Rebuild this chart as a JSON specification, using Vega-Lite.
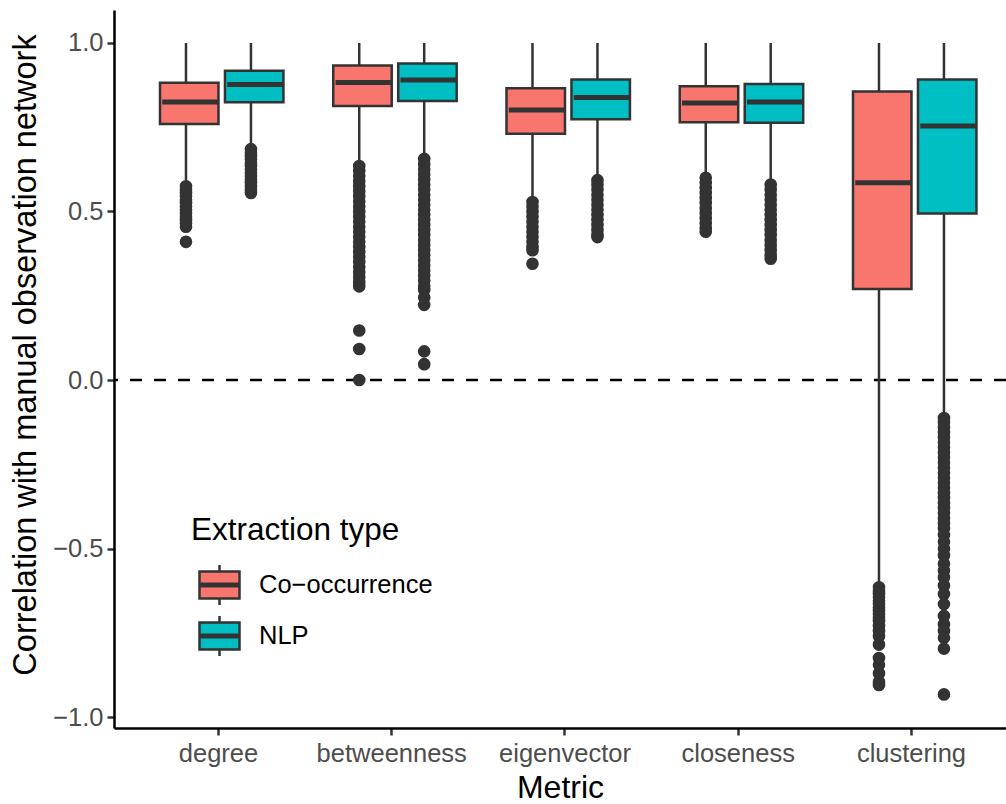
{
  "$schema": "https://vega.github.io/schema/vega-lite/v6.json",
  "width": 892,
  "height": 718,
  "autosize": {"type": "none"},
  "padding": {"left": 114, "top": 10, "right": 0, "bottom": 76},
  "background": "white",
  "config": {
    "view": {"stroke": null},
    "font": "Liberation Sans",
    "axis": {
      "domainColor": "black",
      "domainWidth": 2.5,
      "tickColor": "#333333",
      "tickWidth": 2.5,
      "tickSize": 7,
      "labelColor": "#4D4D4D",
      "labelFontSize": 25.5,
      "labelFont": "Liberation Sans",
      "titleFont": "Liberation Sans",
      "titleFontSize": 32,
      "titleFontWeight": "normal",
      "titleColor": "black",
      "grid": false
    },
    "axisX": {"labelAngle": 0, "labelPadding": 6, "titlePadding": 6},
    "axisY": {"labelPadding": 4, "titlePadding": 10, "titleFontSize": 32.5, "titleY": 344.5},
    "legend": {
      "orient": "none",
      "legendX": 77,
      "legendY": 505,
      "padding": 0,
      "titleFont": "Liberation Sans",
      "titleFontSize": 31.5,
      "titleFontWeight": "normal",
      "titleColor": "black",
      "titlePadding": 17,
      "titleLimit": 0,
      "labelFont": "Liberation Sans",
      "labelFontSize": 25.5,
      "labelColor": "black",
      "labelLimit": 0,
      "labelOffset": 18,
      "symbolOffset": 7,
      "rowPadding": 0,
      "symbolSize": 1600,
      "symbolType": "M-1,-0.675H1V0.675H-1Z M-1,-0.06H1V0.06H-1Z M0,-0.675V-1 M0,0.675V1",
      "symbolStrokeColor": "#333333",
      "symbolStrokeWidth": 2.5
    }
  },
  "datasets": {
    "stats": [
      {"metric": "degree", "type": "Co-occurrence", "lower": 0.585, "q1": 0.760, "median": 0.825, "q3": 0.882, "upper": 1.0},
      {"metric": "degree", "type": "NLP", "lower": 0.69, "q1": 0.824, "median": 0.877, "q3": 0.918, "upper": 1.0},
      {"metric": "betweenness", "type": "Co-occurrence", "lower": 0.64, "q1": 0.813, "median": 0.883, "q3": 0.933, "upper": 1.0},
      {"metric": "betweenness", "type": "NLP", "lower": 0.662, "q1": 0.828, "median": 0.890, "q3": 0.939, "upper": 1.0},
      {"metric": "eigenvector", "type": "Co-occurrence", "lower": 0.533, "q1": 0.731, "median": 0.801, "q3": 0.866, "upper": 1.0},
      {"metric": "eigenvector", "type": "NLP", "lower": 0.597, "q1": 0.774, "median": 0.838, "q3": 0.892, "upper": 1.0},
      {"metric": "closeness", "type": "Co-occurrence", "lower": 0.605, "q1": 0.765, "median": 0.822, "q3": 0.872, "upper": 1.0},
      {"metric": "closeness", "type": "NLP", "lower": 0.585, "q1": 0.763, "median": 0.825, "q3": 0.878, "upper": 1.0},
      {"metric": "clustering", "type": "Co-occurrence", "lower": -0.61, "q1": 0.270, "median": 0.585, "q3": 0.856, "upper": 1.0},
      {"metric": "clustering", "type": "NLP", "lower": -0.108, "q1": 0.494, "median": 0.754, "q3": 0.892, "upper": 1.0}
    ],
    "outliers": [
      {"metric": "degree", "type": "Co-occurrence", "value": 0.575},
      {"metric": "degree", "type": "Co-occurrence", "value": 0.565},
      {"metric": "degree", "type": "Co-occurrence", "value": 0.555},
      {"metric": "degree", "type": "Co-occurrence", "value": 0.545},
      {"metric": "degree", "type": "Co-occurrence", "value": 0.535},
      {"metric": "degree", "type": "Co-occurrence", "value": 0.525},
      {"metric": "degree", "type": "Co-occurrence", "value": 0.515},
      {"metric": "degree", "type": "Co-occurrence", "value": 0.505},
      {"metric": "degree", "type": "Co-occurrence", "value": 0.495},
      {"metric": "degree", "type": "Co-occurrence", "value": 0.485},
      {"metric": "degree", "type": "Co-occurrence", "value": 0.475},
      {"metric": "degree", "type": "Co-occurrence", "value": 0.465},
      {"metric": "degree", "type": "Co-occurrence", "value": 0.455},
      {"metric": "degree", "type": "Co-occurrence", "value": 0.41},
      {"metric": "degree", "type": "NLP", "value": 0.685},
      {"metric": "degree", "type": "NLP", "value": 0.675},
      {"metric": "degree", "type": "NLP", "value": 0.665},
      {"metric": "degree", "type": "NLP", "value": 0.655},
      {"metric": "degree", "type": "NLP", "value": 0.645},
      {"metric": "degree", "type": "NLP", "value": 0.635},
      {"metric": "degree", "type": "NLP", "value": 0.625},
      {"metric": "degree", "type": "NLP", "value": 0.615},
      {"metric": "degree", "type": "NLP", "value": 0.605},
      {"metric": "degree", "type": "NLP", "value": 0.595},
      {"metric": "degree", "type": "NLP", "value": 0.585},
      {"metric": "degree", "type": "NLP", "value": 0.575},
      {"metric": "degree", "type": "NLP", "value": 0.565},
      {"metric": "degree", "type": "NLP", "value": 0.555},
      {"metric": "betweenness", "type": "Co-occurrence", "value": 0.635},
      {"metric": "betweenness", "type": "Co-occurrence", "value": 0.62},
      {"metric": "betweenness", "type": "Co-occurrence", "value": 0.605},
      {"metric": "betweenness", "type": "Co-occurrence", "value": 0.59},
      {"metric": "betweenness", "type": "Co-occurrence", "value": 0.575},
      {"metric": "betweenness", "type": "Co-occurrence", "value": 0.56},
      {"metric": "betweenness", "type": "Co-occurrence", "value": 0.545},
      {"metric": "betweenness", "type": "Co-occurrence", "value": 0.53},
      {"metric": "betweenness", "type": "Co-occurrence", "value": 0.515},
      {"metric": "betweenness", "type": "Co-occurrence", "value": 0.5},
      {"metric": "betweenness", "type": "Co-occurrence", "value": 0.485},
      {"metric": "betweenness", "type": "Co-occurrence", "value": 0.47},
      {"metric": "betweenness", "type": "Co-occurrence", "value": 0.455},
      {"metric": "betweenness", "type": "Co-occurrence", "value": 0.44},
      {"metric": "betweenness", "type": "Co-occurrence", "value": 0.425},
      {"metric": "betweenness", "type": "Co-occurrence", "value": 0.41},
      {"metric": "betweenness", "type": "Co-occurrence", "value": 0.395},
      {"metric": "betweenness", "type": "Co-occurrence", "value": 0.38},
      {"metric": "betweenness", "type": "Co-occurrence", "value": 0.365},
      {"metric": "betweenness", "type": "Co-occurrence", "value": 0.35},
      {"metric": "betweenness", "type": "Co-occurrence", "value": 0.335},
      {"metric": "betweenness", "type": "Co-occurrence", "value": 0.32},
      {"metric": "betweenness", "type": "Co-occurrence", "value": 0.305},
      {"metric": "betweenness", "type": "Co-occurrence", "value": 0.29},
      {"metric": "betweenness", "type": "Co-occurrence", "value": 0.278},
      {"metric": "betweenness", "type": "Co-occurrence", "value": 0.147},
      {"metric": "betweenness", "type": "Co-occurrence", "value": 0.092},
      {"metric": "betweenness", "type": "Co-occurrence", "value": 0.0},
      {"metric": "betweenness", "type": "NLP", "value": 0.656},
      {"metric": "betweenness", "type": "NLP", "value": 0.64},
      {"metric": "betweenness", "type": "NLP", "value": 0.625},
      {"metric": "betweenness", "type": "NLP", "value": 0.61},
      {"metric": "betweenness", "type": "NLP", "value": 0.595},
      {"metric": "betweenness", "type": "NLP", "value": 0.58},
      {"metric": "betweenness", "type": "NLP", "value": 0.565},
      {"metric": "betweenness", "type": "NLP", "value": 0.55},
      {"metric": "betweenness", "type": "NLP", "value": 0.535},
      {"metric": "betweenness", "type": "NLP", "value": 0.52},
      {"metric": "betweenness", "type": "NLP", "value": 0.505},
      {"metric": "betweenness", "type": "NLP", "value": 0.49},
      {"metric": "betweenness", "type": "NLP", "value": 0.475},
      {"metric": "betweenness", "type": "NLP", "value": 0.46},
      {"metric": "betweenness", "type": "NLP", "value": 0.445},
      {"metric": "betweenness", "type": "NLP", "value": 0.43},
      {"metric": "betweenness", "type": "NLP", "value": 0.415},
      {"metric": "betweenness", "type": "NLP", "value": 0.4},
      {"metric": "betweenness", "type": "NLP", "value": 0.385},
      {"metric": "betweenness", "type": "NLP", "value": 0.37},
      {"metric": "betweenness", "type": "NLP", "value": 0.355},
      {"metric": "betweenness", "type": "NLP", "value": 0.34},
      {"metric": "betweenness", "type": "NLP", "value": 0.325},
      {"metric": "betweenness", "type": "NLP", "value": 0.31},
      {"metric": "betweenness", "type": "NLP", "value": 0.295},
      {"metric": "betweenness", "type": "NLP", "value": 0.28},
      {"metric": "betweenness", "type": "NLP", "value": 0.267},
      {"metric": "betweenness", "type": "NLP", "value": 0.245},
      {"metric": "betweenness", "type": "NLP", "value": 0.223},
      {"metric": "betweenness", "type": "NLP", "value": 0.085},
      {"metric": "betweenness", "type": "NLP", "value": 0.047},
      {"metric": "eigenvector", "type": "Co-occurrence", "value": 0.528},
      {"metric": "eigenvector", "type": "Co-occurrence", "value": 0.515},
      {"metric": "eigenvector", "type": "Co-occurrence", "value": 0.5},
      {"metric": "eigenvector", "type": "Co-occurrence", "value": 0.485},
      {"metric": "eigenvector", "type": "Co-occurrence", "value": 0.47},
      {"metric": "eigenvector", "type": "Co-occurrence", "value": 0.455},
      {"metric": "eigenvector", "type": "Co-occurrence", "value": 0.44},
      {"metric": "eigenvector", "type": "Co-occurrence", "value": 0.425},
      {"metric": "eigenvector", "type": "Co-occurrence", "value": 0.41},
      {"metric": "eigenvector", "type": "Co-occurrence", "value": 0.395},
      {"metric": "eigenvector", "type": "Co-occurrence", "value": 0.385},
      {"metric": "eigenvector", "type": "Co-occurrence", "value": 0.345},
      {"metric": "eigenvector", "type": "NLP", "value": 0.593},
      {"metric": "eigenvector", "type": "NLP", "value": 0.58},
      {"metric": "eigenvector", "type": "NLP", "value": 0.565},
      {"metric": "eigenvector", "type": "NLP", "value": 0.55},
      {"metric": "eigenvector", "type": "NLP", "value": 0.535},
      {"metric": "eigenvector", "type": "NLP", "value": 0.52},
      {"metric": "eigenvector", "type": "NLP", "value": 0.505},
      {"metric": "eigenvector", "type": "NLP", "value": 0.49},
      {"metric": "eigenvector", "type": "NLP", "value": 0.475},
      {"metric": "eigenvector", "type": "NLP", "value": 0.46},
      {"metric": "eigenvector", "type": "NLP", "value": 0.445},
      {"metric": "eigenvector", "type": "NLP", "value": 0.432},
      {"metric": "eigenvector", "type": "NLP", "value": 0.424},
      {"metric": "closeness", "type": "Co-occurrence", "value": 0.6},
      {"metric": "closeness", "type": "Co-occurrence", "value": 0.585},
      {"metric": "closeness", "type": "Co-occurrence", "value": 0.57},
      {"metric": "closeness", "type": "Co-occurrence", "value": 0.555},
      {"metric": "closeness", "type": "Co-occurrence", "value": 0.54},
      {"metric": "closeness", "type": "Co-occurrence", "value": 0.525},
      {"metric": "closeness", "type": "Co-occurrence", "value": 0.51},
      {"metric": "closeness", "type": "Co-occurrence", "value": 0.495},
      {"metric": "closeness", "type": "Co-occurrence", "value": 0.48},
      {"metric": "closeness", "type": "Co-occurrence", "value": 0.465},
      {"metric": "closeness", "type": "Co-occurrence", "value": 0.45},
      {"metric": "closeness", "type": "Co-occurrence", "value": 0.44},
      {"metric": "closeness", "type": "NLP", "value": 0.58},
      {"metric": "closeness", "type": "NLP", "value": 0.565},
      {"metric": "closeness", "type": "NLP", "value": 0.55},
      {"metric": "closeness", "type": "NLP", "value": 0.535},
      {"metric": "closeness", "type": "NLP", "value": 0.52},
      {"metric": "closeness", "type": "NLP", "value": 0.505},
      {"metric": "closeness", "type": "NLP", "value": 0.49},
      {"metric": "closeness", "type": "NLP", "value": 0.475},
      {"metric": "closeness", "type": "NLP", "value": 0.46},
      {"metric": "closeness", "type": "NLP", "value": 0.445},
      {"metric": "closeness", "type": "NLP", "value": 0.43},
      {"metric": "closeness", "type": "NLP", "value": 0.415},
      {"metric": "closeness", "type": "NLP", "value": 0.4},
      {"metric": "closeness", "type": "NLP", "value": 0.385},
      {"metric": "closeness", "type": "NLP", "value": 0.37},
      {"metric": "closeness", "type": "NLP", "value": 0.36},
      {"metric": "clustering", "type": "Co-occurrence", "value": -0.615},
      {"metric": "clustering", "type": "Co-occurrence", "value": -0.625},
      {"metric": "clustering", "type": "Co-occurrence", "value": -0.635},
      {"metric": "clustering", "type": "Co-occurrence", "value": -0.645},
      {"metric": "clustering", "type": "Co-occurrence", "value": -0.655},
      {"metric": "clustering", "type": "Co-occurrence", "value": -0.665},
      {"metric": "clustering", "type": "Co-occurrence", "value": -0.675},
      {"metric": "clustering", "type": "Co-occurrence", "value": -0.685},
      {"metric": "clustering", "type": "Co-occurrence", "value": -0.695},
      {"metric": "clustering", "type": "Co-occurrence", "value": -0.705},
      {"metric": "clustering", "type": "Co-occurrence", "value": -0.715},
      {"metric": "clustering", "type": "Co-occurrence", "value": -0.73},
      {"metric": "clustering", "type": "Co-occurrence", "value": -0.745},
      {"metric": "clustering", "type": "Co-occurrence", "value": -0.76},
      {"metric": "clustering", "type": "Co-occurrence", "value": -0.785},
      {"metric": "clustering", "type": "Co-occurrence", "value": -0.825},
      {"metric": "clustering", "type": "Co-occurrence", "value": -0.845},
      {"metric": "clustering", "type": "Co-occurrence", "value": -0.87},
      {"metric": "clustering", "type": "Co-occurrence", "value": -0.895},
      {"metric": "clustering", "type": "Co-occurrence", "value": -0.905},
      {"metric": "clustering", "type": "NLP", "value": -0.113},
      {"metric": "clustering", "type": "NLP", "value": -0.125},
      {"metric": "clustering", "type": "NLP", "value": -0.14},
      {"metric": "clustering", "type": "NLP", "value": -0.155},
      {"metric": "clustering", "type": "NLP", "value": -0.17},
      {"metric": "clustering", "type": "NLP", "value": -0.185},
      {"metric": "clustering", "type": "NLP", "value": -0.2},
      {"metric": "clustering", "type": "NLP", "value": -0.215},
      {"metric": "clustering", "type": "NLP", "value": -0.23},
      {"metric": "clustering", "type": "NLP", "value": -0.245},
      {"metric": "clustering", "type": "NLP", "value": -0.26},
      {"metric": "clustering", "type": "NLP", "value": -0.275},
      {"metric": "clustering", "type": "NLP", "value": -0.29},
      {"metric": "clustering", "type": "NLP", "value": -0.305},
      {"metric": "clustering", "type": "NLP", "value": -0.32},
      {"metric": "clustering", "type": "NLP", "value": -0.335},
      {"metric": "clustering", "type": "NLP", "value": -0.35},
      {"metric": "clustering", "type": "NLP", "value": -0.365},
      {"metric": "clustering", "type": "NLP", "value": -0.38},
      {"metric": "clustering", "type": "NLP", "value": -0.395},
      {"metric": "clustering", "type": "NLP", "value": -0.41},
      {"metric": "clustering", "type": "NLP", "value": -0.425},
      {"metric": "clustering", "type": "NLP", "value": -0.44},
      {"metric": "clustering", "type": "NLP", "value": -0.46},
      {"metric": "clustering", "type": "NLP", "value": -0.48},
      {"metric": "clustering", "type": "NLP", "value": -0.5},
      {"metric": "clustering", "type": "NLP", "value": -0.52},
      {"metric": "clustering", "type": "NLP", "value": -0.545},
      {"metric": "clustering", "type": "NLP", "value": -0.565},
      {"metric": "clustering", "type": "NLP", "value": -0.585},
      {"metric": "clustering", "type": "NLP", "value": -0.61},
      {"metric": "clustering", "type": "NLP", "value": -0.635},
      {"metric": "clustering", "type": "NLP", "value": -0.665},
      {"metric": "clustering", "type": "NLP", "value": -0.7},
      {"metric": "clustering", "type": "NLP", "value": -0.725},
      {"metric": "clustering", "type": "NLP", "value": -0.745},
      {"metric": "clustering", "type": "NLP", "value": -0.765},
      {"metric": "clustering", "type": "NLP", "value": -0.797},
      {"metric": "clustering", "type": "NLP", "value": -0.933}
    ]
  },
  "layer": [
    {
      "data": {"values": [{"ref": 0}]},
      "mark": {"type": "rule", "color": "black", "strokeWidth": 2.7, "strokeDash": [12, 12]},
      "encoding": {
        "y": {"field": "ref", "type": "quantitative", "title": "Correlation with manual observation network",
              "scale": {"domain": [-1.0326, 1.0979], "nice": false, "zero": false},
              "axis": {"values": [-1, -0.5, 0, 0.5, 1], "format": ".1f"}}
      }
    },
    {
      "data": {"name": "stats"},
      "mark": {"type": "rule", "color": "#333333", "strokeWidth": 2.5},
      "encoding": {
        "x": {"field": "metric", "type": "nominal", "title": "Metric",
              "sort": ["degree", "betweenness", "eigenvector", "closeness", "clustering"],
              "scale": {"paddingInner": 0.25, "paddingOuter": 0.1993, "align": 0.572, "round": false}},
        "xOffset": {"field": "type", "type": "nominal", "sort": ["Co-occurrence", "NLP"],
                    "scale": {"paddingInner": 0, "paddingOuter": 0}},
        "y": {"field": "lower", "type": "quantitative", "title": "Correlation with manual observation network",
              "axis": {"values": [-1, -0.5, 0, 0.5, 1], "format": ".1f"}},
        "y2": {"field": "upper"}
      }
    },
    {
      "data": {"name": "stats"},
      "mark": {"type": "bar", "stroke": "#333333", "strokeWidth": 2.5, "width": {"band": 0.9}},
      "encoding": {
        "x": {"field": "metric", "type": "nominal", "title": "Metric",
              "sort": ["degree", "betweenness", "eigenvector", "closeness", "clustering"]},
        "xOffset": {"field": "type", "type": "nominal", "sort": ["Co-occurrence", "NLP"]},
        "y": {"field": "q1", "type": "quantitative", "title": "Correlation with manual observation network",
              "axis": {"values": [-1, -0.5, 0, 0.5, 1], "format": ".1f"}},
        "y2": {"field": "q3"},
        "fill": {"field": "type", "type": "nominal", "sort": ["Co-occurrence", "NLP"],
                 "scale": {"domain": ["Co-occurrence", "NLP"], "range": ["#F8766D", "#00BFC4"]},
                 "legend": {"title": "Extraction type", "labelExpr": "replace(datum.label, '-', '\u2212')"}}
      }
    },
    {
      "data": {"name": "stats"},
      "mark": {"type": "bar", "fill": null, "stroke": "#333333", "strokeWidth": 5, "width": {"band": 0.865}},
      "encoding": {
        "x": {"field": "metric", "type": "nominal", "title": "Metric",
              "sort": ["degree", "betweenness", "eigenvector", "closeness", "clustering"]},
        "xOffset": {"field": "type", "type": "nominal", "sort": ["Co-occurrence", "NLP"]},
        "y": {"field": "median", "type": "quantitative", "title": "Correlation with manual observation network",
              "axis": {"values": [-1, -0.5, 0, 0.5, 1], "format": ".1f"}},
        "y2": {"field": "median"}
      }
    },
    {
      "data": {"name": "outliers"},
      "mark": {"type": "circle", "color": "#333333", "size": 160, "opacity": 1},
      "encoding": {
        "x": {"field": "metric", "type": "nominal", "title": "Metric",
              "sort": ["degree", "betweenness", "eigenvector", "closeness", "clustering"]},
        "xOffset": {"field": "type", "type": "nominal", "sort": ["Co-occurrence", "NLP"]},
        "y": {"field": "value", "type": "quantitative", "title": "Correlation with manual observation network",
              "axis": {"values": [-1, -0.5, 0, 0.5, 1], "format": ".1f"}}
      }
    }
  ]
}
